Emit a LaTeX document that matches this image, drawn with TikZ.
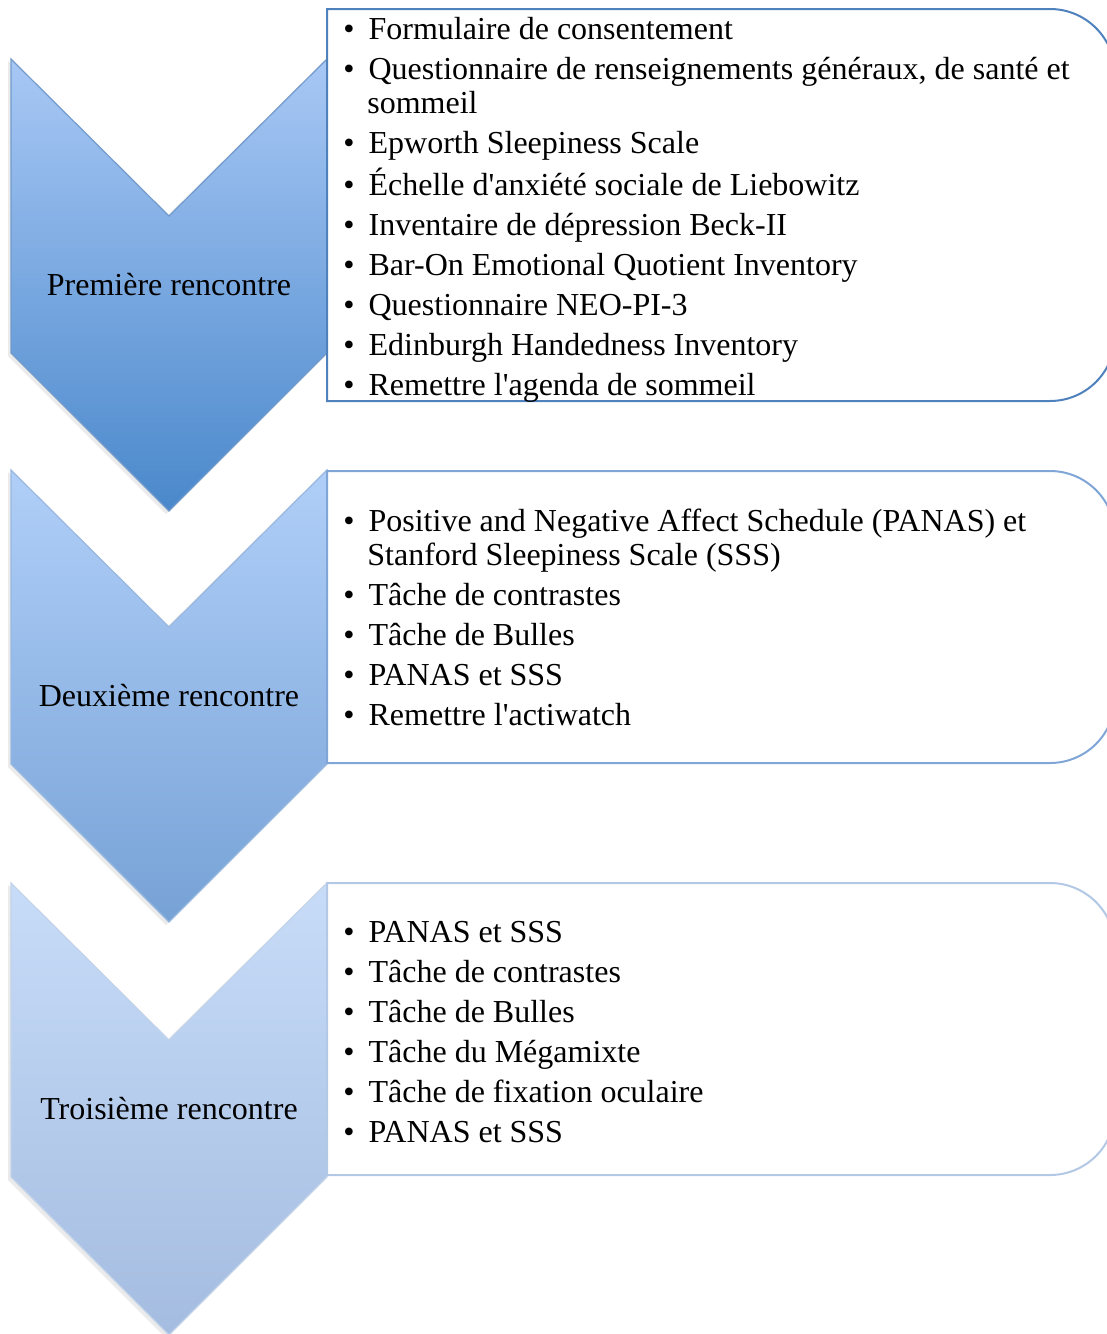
\documentclass[tikz,border=0pt]{standalone}
\usepackage{fontspec}
\setmainfont{Liberation Serif}
\usetikzlibrary{positioning}
\definecolor{chevtop1}{HTML}{A8C8F5}
\definecolor{chevbot1}{HTML}{4A88CB}
\definecolor{chevtop2}{HTML}{B0CFF8}
\definecolor{chevbot2}{HTML}{77A2D6}
\definecolor{chevtop3}{HTML}{C7DCF8}
\definecolor{chevbot3}{HTML}{A4BCE0}
\definecolor{boxline1}{HTML}{4F81BD}
\definecolor{boxline2}{HTML}{80A6D8}
\definecolor{boxline3}{HTML}{B3C8E5}
\newenvironment{itemlist}{\begin{list}{\textbullet}{%
  \setlength{\leftmargin}{12pt}\setlength{\labelwidth}{5pt}%
  \setlength{\labelsep}{7pt}\setlength{\itemsep}{3pt}%
  \setlength{\parsep}{0pt}\setlength{\topsep}{0pt}\setlength{\partopsep}{0pt}}%
  \raggedright\spaceskip=0.25em}%
  {\end{list}}
\tikzset{
  stagelabel/.style={font=\fontsize{16pt}{19pt}\selectfont, align=center},
  itembox/.style={anchor=west, inner sep=0pt, text width=372pt,
    font=\fontsize{16pt}{17pt}\selectfont},
  boxframe/.style={fill=white, line width=1pt},
  chevshadow/.style={fill=black, opacity=0.08}
}

\begin{document}
\begin{tikzpicture}[x=0.5pt, y=0.5pt]
  \useasboundingbox (0,0) rectangle (1107,-1334);
  % chevrons and frames: top of chevron / top of box / bottom of box / label
  \foreach \t/\bt/\bb/\n/\txt in {59/9/401/1/Première rencontre,
      470/471/763/2/Deuxième rencontre, 883/883/1175/3/Troisième rencontre}{
    \fill[chevshadow] (8,{-\t-2}) -- (166,{-\t-158}) -- (324,{-\t-2})
      -- (324,{-\t-297}) -- (166,{-\t-455}) -- (8,{-\t-297}) -- cycle;
    \shade[top color=chevtop\n, bottom color=chevbot\n, draw=boxline\n!80, line width=0.6pt]
      (11,-\t) -- (169,{-\t-157}) -- (327,-\t) -- (327,{-\t-294})
      -- (169,{-\t-452}) -- (11,{-\t-294}) -- cycle;
    \node[stagelabel] (stage\n) at (169,{-\t-226}) {\txt};
    \draw[boxframe, draw=boxline\n] (327,-\bt) -- (1050,-\bt)
      arc[start angle=90, end angle=0, radius=65] -- (1115,{-\bb+65})
      arc[start angle=0, end angle=-90, radius=65] -- (327,-\bb) -- cycle;
  }
  \node[itembox] (items1) at (343,-204) {%
    \begin{itemlist}
      \item Formulaire de consentement
      \item Questionnaire de renseignements généraux, de santé et sommeil
      \item Epworth Sleepiness Scale
      \item Échelle d\textquotesingle anxiété sociale de Liebowitz
      \item Inventaire de dépression Beck-II
      \item Bar-On Emotional Quotient Inventory
      \item Questionnaire NEO-PI-3
      \item Edinburgh Handedness Inventory
      \item Remettre l\textquotesingle agenda de sommeil
    \end{itemlist}};
  \node[itembox] (items2) at (343,-612) {%
    \begin{itemlist}
      \item Positive and Negative Affect Schedule (PANAS) et Stanford Sleepiness Scale (SSS)
      \item Tâche de contrastes
      \item Tâche de Bulles
      \item PANAS et SSS
      \item Remettre l\textquotesingle actiwatch
    \end{itemlist}};
  \node[itembox] (items3) at (343,-1026) {%
    \begin{itemlist}
      \item PANAS et SSS
      \item Tâche de contrastes
      \item Tâche de Bulles
      \item Tâche du Mégamixte
      \item Tâche de fixation oculaire
      \item PANAS et SSS
    \end{itemlist}};
\end{tikzpicture}
\end{document}
